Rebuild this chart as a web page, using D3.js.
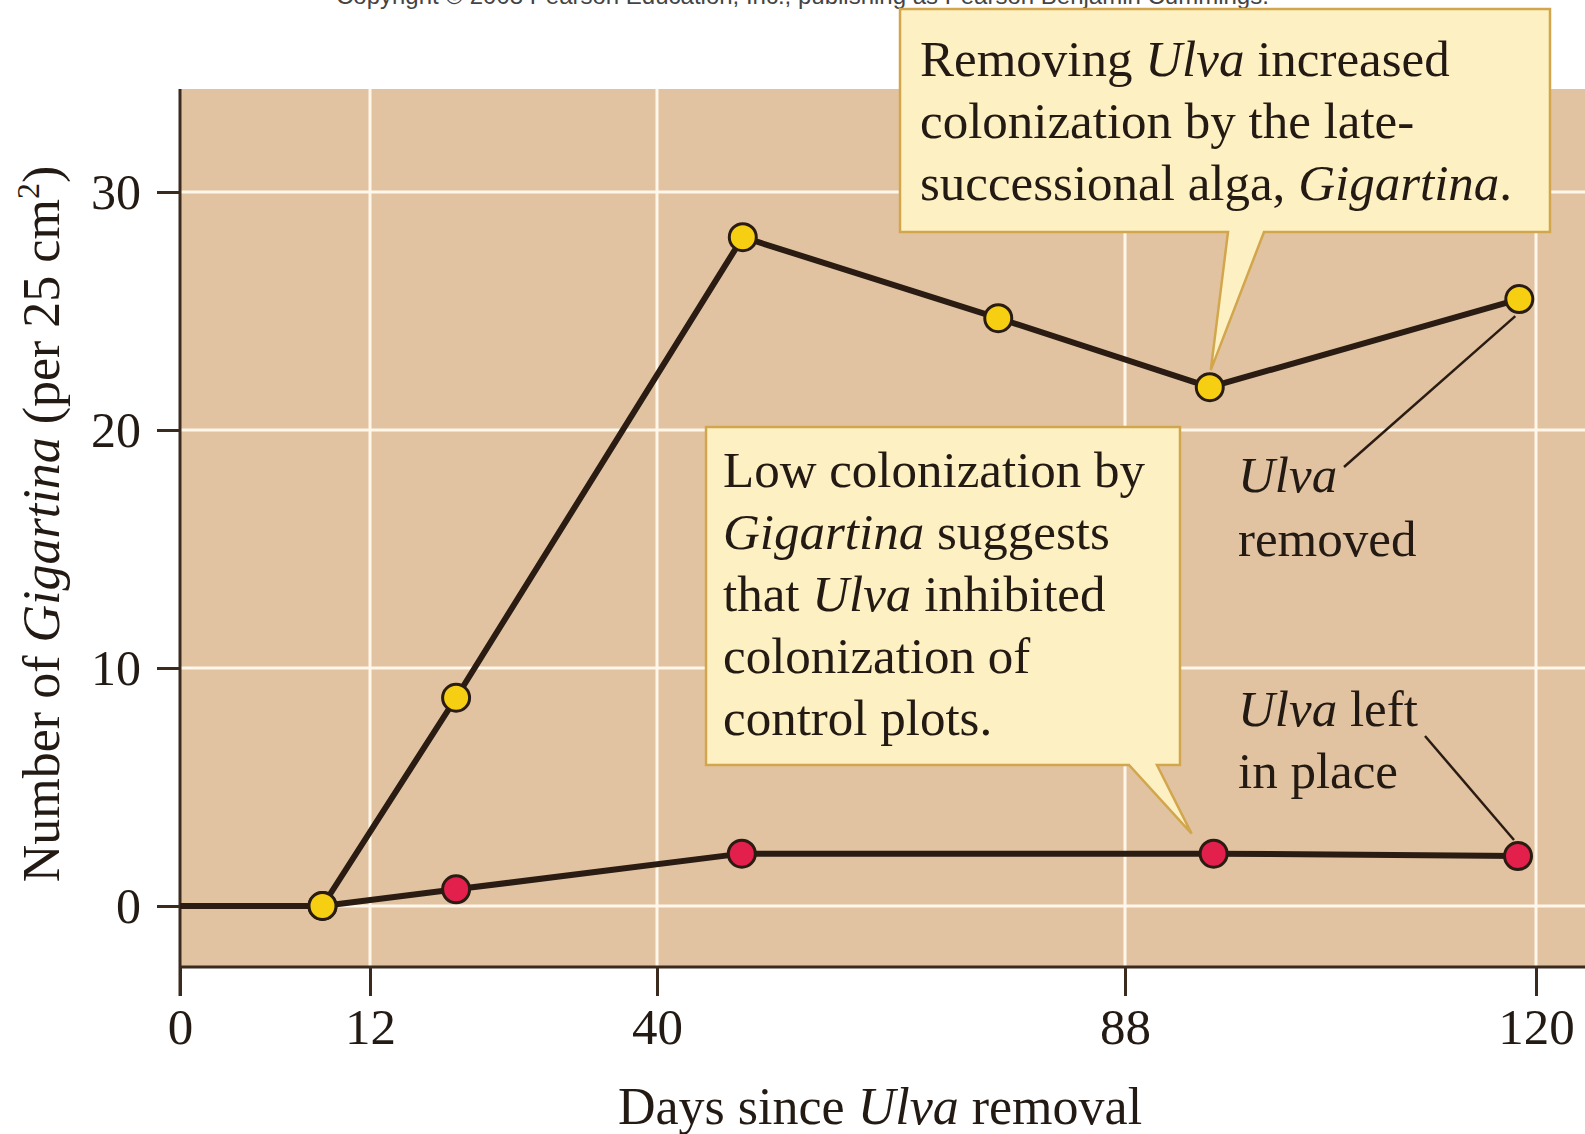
<!DOCTYPE html>
<html lang="en">
<head>
<meta charset="UTF-8">
<title>Gigartina colonization</title>
<script src="https://d3js.org/d3.v7.min.js"></script>
<style>
  body { margin: 0; background: #fff; }
  svg text { font-family: "Liberation Serif", "Times New Roman", serif; fill: #231a14; }
</style>
</head>
<body>
<svg width="1585" height="1134"></svg>
<script>
// tick days on the x axis (the original axis is not evenly spaced)
var xTicks = [0, 12, 40, 88, 120];
var yTicks = [0, 10, 20, 30];

// Ulva removed plots
var removedDays = [0, 9, 20.4, 48.8, 75, 94.6, 118.7];
var removedCount = [0, 0, 8.75, 28.1, 24.7, 21.8, 25.5];

// Ulva left in place (control plots)
var leftDays = [0, 9, 20.4, 48.7, 94.9, 118.6];
var leftCount = [0, 0, 0.7, 2.2, 2.2, 2.1];

var svg = d3.select("svg");

var plotTop = 89, plotBottom = 967, plotLeft = 180, plotRight = 1585;

var x = d3.scaleLinear().domain(xTicks).range([180, 370, 657, 1125, 1536]);
var y = d3.scaleLinear().domain([0, 30]).range([906, 192]);

var ink = "#2a1c13";

// copyright strip, cut off at the top of the image (as in the source scan)
svg.append("text")
    .attr("x", 336).attr("y", 4)
    .style("font-family", "'Liberation Sans', Arial, sans-serif")
    .style("font-size", "24px")
    .style("fill", "#444")
    .text("Copyright \u00A9 2008 Pearson Education, Inc., publishing as Pearson Benjamin Cummings.");

// plot background
svg.append("rect")
    .attr("x", plotLeft).attr("y", plotTop)
    .attr("width", plotRight - plotLeft).attr("height", plotBottom - plotTop)
    .attr("fill", "#e2c3a1");

// grid
svg.append("g").selectAll("line")
    .data(xTicks.filter(function(d) { return d > 0; }))
    .enter().append("line")
    .attr("x1", function(d) { return x(d); }).attr("x2", function(d) { return x(d); })
    .attr("y1", plotTop).attr("y2", plotBottom)
    .attr("stroke", "#fff7ea").attr("stroke-width", 3);

svg.append("g").selectAll("line")
    .data(yTicks)
    .enter().append("line")
    .attr("x1", plotLeft).attr("x2", plotRight)
    .attr("y1", function(d) { return y(d); }).attr("y2", function(d) { return y(d); })
    .attr("stroke", "#fff7ea").attr("stroke-width", 3);

// axes
var xAxis = d3.axisBottom(x).tickValues(xTicks).tickSize(29).tickSizeOuter(0).tickPadding(12);
var gx = svg.append("g").attr("transform", "translate(0," + plotBottom + ")").call(xAxis);
gx.select(".domain").attr("d", "M" + plotLeft + ",0H" + plotRight).attr("stroke", "#3b2a1e").attr("stroke-width", 3);
gx.selectAll(".tick line").attr("stroke", "#3b2a1e").attr("stroke-width", 3);
gx.selectAll(".tick text")
    .style("font-family", "'Liberation Serif', serif")
    .style("font-size", "51px").attr("fill", "#231a14");

var yAxis = d3.axisLeft(y).tickValues(yTicks).tickSize(23).tickSizeOuter(0).tickPadding(16);
var gy = svg.append("g").attr("transform", "translate(" + plotLeft + ",0)").call(yAxis);
gy.select(".domain").attr("d", "M0," + plotTop + "V" + (plotBottom + 29)).attr("stroke", "#3b2a1e").attr("stroke-width", 3);
gy.selectAll(".tick line").attr("stroke", "#3b2a1e").attr("stroke-width", 3);
gy.selectAll(".tick text")
    .style("font-family", "'Liberation Serif', serif")
    .style("font-size", "50px").attr("fill", "#231a14");

// helper for text with italic words
function richText(g, parts, xPos, yPos, size, anchor) {
    var t = g.append("text")
        .attr("x", xPos).attr("y", yPos)
        .style("font-size", size + "px")
        .attr("text-anchor", anchor || "start");
    parts.forEach(function(p) {
        var s = t.append("tspan").text(p[0]);
        if (p[1]) s.style("font-style", "italic");
    });
    return t;
}

// axis titles
richText(svg, [["Days since "], ["Ulva", true], [" removal"]], 880, 1124, 52, "middle");

var yt = svg.append("g").attr("transform", "translate(59,524) rotate(-90)");
var ytt = richText(yt, [["Number of "], ["Gigartina", true], [" (per 25 cm"]], 0, 0, 52, "middle");
ytt.append("tspan").text("2").style("font-size", "32px").attr("dy", -20);
ytt.append("tspan").text(")").attr("dy", 20);

// series lines
var line = d3.line()
    .x(function(d) { return x(d[0]); })
    .y(function(d) { return y(d[1]); });

var leftPts = d3.zip(leftDays, leftCount);
var removedPts = d3.zip(removedDays, removedCount);

[leftPts, removedPts].forEach(function(pts) {
    svg.append("path")
        .datum(pts)
        .attr("d", line)
        .attr("fill", "none")
        .attr("stroke", ink)
        .attr("stroke-width", 6)
        .attr("stroke-linejoin", "round");
});

// leader lines for the series labels
svg.append("line").attr("x1", 1344).attr("y1", 467).attr("x2", x(118.7) - 4).attr("y2", y(25.5) + 17)
    .attr("stroke", ink).attr("stroke-width", 2.5);
svg.append("line").attr("x1", 1425).attr("y1", 736).attr("x2", x(118.6) - 4).attr("y2", y(2.1) - 16)
    .attr("stroke", ink).attr("stroke-width", 2.5);

// markers (origin point is not marked)
function markers(pts, fill) {
    svg.append("g").selectAll("circle")
        .data(pts.filter(function(d) { return d[0] > 0; }))
        .enter().append("circle")
        .attr("cx", function(d) { return x(d[0]); })
        .attr("cy", function(d) { return y(d[1]); })
        .attr("r", 13.5)
        .attr("fill", fill)
        .attr("stroke", ink)
        .attr("stroke-width", 3);
}
markers(leftPts, "#e31f4b");
markers(removedPts, "#f6cf12");

// series labels
richText(svg, [["Ulva", true]], 1238, 492, 51);
richText(svg, [["removed"]], 1238, 556, 51);
richText(svg, [["Ulva", true], [" left"]], 1238, 726, 51);
richText(svg, [["in place"]], 1238, 788, 51);

// callout boxes
function callout(bx, by, bw, bh, tail, lines, tx, ty, lh) {
    var p = d3.path();
    p.moveTo(bx, by);
    p.lineTo(bx + bw, by);
    p.lineTo(bx + bw, by + bh);
    p.lineTo(tail[1], by + bh);
    p.lineTo(tail[2][0], tail[2][1]);
    p.lineTo(tail[0], by + bh);
    p.lineTo(bx, by + bh);
    p.closePath();
    svg.append("path")
        .attr("d", p.toString())
        .attr("fill", "#fdf0c2")
        .attr("stroke", "#d2a64c")
        .attr("stroke-width", 2.5)
        .attr("stroke-linejoin", "miter");
    lines.forEach(function(parts, i) {
        richText(svg, parts, tx, ty + i * lh, 51);
    });
}

callout(900, 9, 650, 223, [1228, 1264, [x(94.6) + 1, y(21.8) - 17]],
    [[["Removing "], ["Ulva", true], [" increased"]],
     [["colonization by the late-"]],
     [["successional alga, "], ["Gigartina", true], ["."]]],
    920, 76, 62);

callout(706, 427, 474, 338, [1129, 1157, [x(94.9) - 22, y(2.2) - 20]],
    [[["Low colonization by"]],
     [["Gigartina", true], [" suggests"]],
     [["that "], ["Ulva", true], [" inhibited"]],
     [["colonization of"]],
     [["control plots."]]],
    723, 487, 62);
</script>
</body>
</html>
